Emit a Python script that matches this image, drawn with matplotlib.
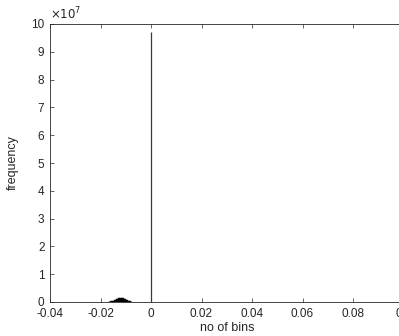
import matplotlib.pyplot as plt

plt.rcParams['font.family'] = ['Liberation Sans', 'DejaVu Sans']

# histogram bins (x) and counts (frequency)
bump_centers = [-0.0168, -0.0164, -0.0160, -0.0156, -0.0152, -0.0148, -0.0144,
                -0.0140, -0.0136, -0.0132, -0.0128, -0.0124, -0.0120, -0.0116,
                -0.0112, -0.0108, -0.0104, -0.0100, -0.0096, -0.0092, -0.0088,
                -0.0084, -0.0080, -0.0076]
bump_counts = [0.5e5, 1e5, 2e5, 3e5, 4e5, 5e5, 6.5e5, 8e5, 10e5, 12e5, 13.5e5,
               14.5e5, 15e5, 15e5, 14.5e5, 13.5e5, 12e5, 10e5, 8e5, 6e5, 4.5e5,
               3e5, 2e5, 1e5]
spike_x = [0.0]
spike_counts = [9.71e7]
bin_width = 0.0004

xticks = [-0.04, -0.02, 0, 0.02, 0.04, 0.06, 0.08, 0.1]
xticklabels = ['-0.04', '-0.02', '0', '0.02', '0.04', '0.06', '0.08', '0.1']
yticks = list(range(0, 11))

fig = plt.figure(figsize=(3.99, 3.36), dpi=100)
ax = fig.add_axes([50 / 399, 34 / 336, 353.5 / 399, 278 / 336])

ax.bar(bump_centers, bump_counts, width=bin_width, color='black',
       edgecolor='black', linewidth=0.3)
ax.vlines(spike_x, 0, spike_counts, color='#3a3a3a', linewidth=0.9)

ax.set_xlim(-0.04, 0.1)
ax.set_ylim(0, 10e7)
ax.set_xticks(xticks)
ax.set_xticklabels(xticklabels)
ax.set_yticks([v * 1e7 for v in yticks])
ax.set_yticklabels([str(v) for v in yticks])

ax.tick_params(direction='in', length=3, width=0.5, colors='#262626',
               labelsize=8.5, top=True, right=True)
ax.tick_params(axis='x', pad=4)
ax.tick_params(axis='y', pad=4)
for s in ax.spines.values():
    s.set_linewidth(0.6)
    s.set_color('#262626')

ax.set_xlabel('no of bins', fontsize=9, color='#262626', labelpad=2)
ax.set_ylabel('frequency', fontsize=9, color='#262626', labelpad=9)
ax.text(0.0, 1.005, r'$\times10^{7}$', transform=ax.transAxes, fontsize=8.5,
        color='#262626', ha='left', va='bottom')

fig.savefig('out.png', dpi=100)
